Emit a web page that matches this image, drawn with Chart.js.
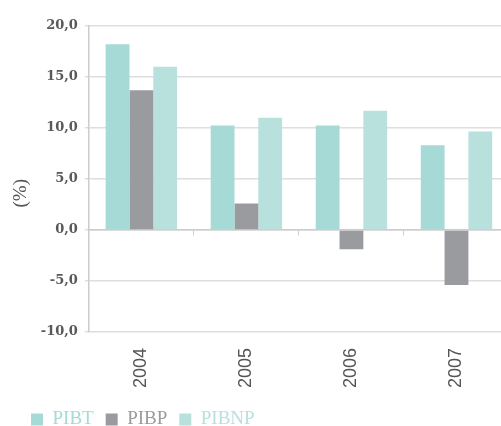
<!DOCTYPE html>
<html>
<head>
<meta charset="utf-8">
<script src="https://cdn.jsdelivr.net/npm/chart.js@4"></script>
<style>
  html, body { margin: 0; padding: 0; background: #fff; overflow: hidden; }
  #wrap { width: 509px; height: 426px; }
</style>
</head>
<body>
<div id="wrap"><canvas id="chart"></canvas></div>
<script>
// ---------------- Data ----------------
const years = ["2004", "2005", "2006", "2007"];
const pibt = [18.2, 10.25, 10.25, 8.3];
const pibp = [13.7, 2.6, -1.9, -5.4];
const pibnp = [16.0, 11.0, 11.7, 9.65];
const yTicks = [-10, -5, 0, 5, 10, 15, 20];

const colors = { pibt: "#a6dad6", pibp: "#9a9b9f", pibnp: "#b8e1dd" };

// nudge legend a bit (right and up)
const legendShift = {
  id: "legendShift",
  afterLayout(chart) {
    chart.legend.left += 9;
    chart.legend.top -= 6;
  },
};

const ctx = document.getElementById("chart").getContext("2d");
const chart = new Chart(ctx, {
  type: "bar",
  data: {
    labels: years,
    datasets: [
      { label: "PIBT", data: pibt, backgroundColor: colors.pibt },
      { label: "PIBP", data: pibp, backgroundColor: colors.pibp },
      { label: "PIBNP", data: pibnp, backgroundColor: colors.pibnp },
    ],
  },
  options: {
    responsive: true,
    maintainAspectRatio: false,
    animation: false,
    datasets: { bar: { categoryPercentage: 0.68, barPercentage: 1.0 } },
    layout: { padding: { left: 10, top: 26, right: 0, bottom: -19 } },
    plugins: {
      tooltip: { enabled: false },
      legend: {
        position: "bottom",
        align: "start",
        labels: {
          boxWidth: 12,
          boxHeight: 12,
          padding: 12,
          font: { family: "Liberation Serif", size: 19 },
          generateLabels(c) {
            return c.data.datasets.map((ds, i) => ({
              text: ds.label,
              fillStyle: ds.backgroundColor,
              strokeStyle: ds.backgroundColor,
              lineWidth: 0,
              fontColor: ds.backgroundColor,
              datasetIndex: i,
            }));
          },
        },
      },
    },
    scales: {
      x: {
        grid: { drawOnChartArea: false, drawTicks: false },
        border: { display: false },
        ticks: {
          maxRotation: 90,
          minRotation: 90,
          padding: 16,
          color: "#555",
          font: { family: "Liberation Sans", size: 18 },
        },
      },
      x2: {
        type: "category",
        labels: years,
        offset: true,
        position: { y: 0 },
        grid: { drawOnChartArea: false, offset: true, tickLength: 5, color: "#ccc" },
        border: { color: "#ccc", width: 1.5 },
        ticks: { display: false },
      },
      y: {
        min: -10,
        max: 20,
        afterBuildTicks(axis) {
          axis.ticks = yTicks.map((v) => ({ value: v }));
        },
        grid: { color: "#dedede", lineWidth: 1.5, tickLength: 4 },
        border: { color: "#ccc", width: 1.5 },
        ticks: {
          padding: 7,
          color: "#595959",
          font: { family: "DejaVu Serif", size: 13, weight: "bold" },
          callback: (v) => v.toFixed(1).replace(".", ","),
        },
        title: {
          display: true,
          text: "(%)      ",
          color: "#555",
          padding: { top: 0, bottom: 1 },
          font: { family: "Liberation Serif", size: 19 },
        },
      },
    },
  },
  plugins: [legendShift],
});
</script>
</body>
</html>
